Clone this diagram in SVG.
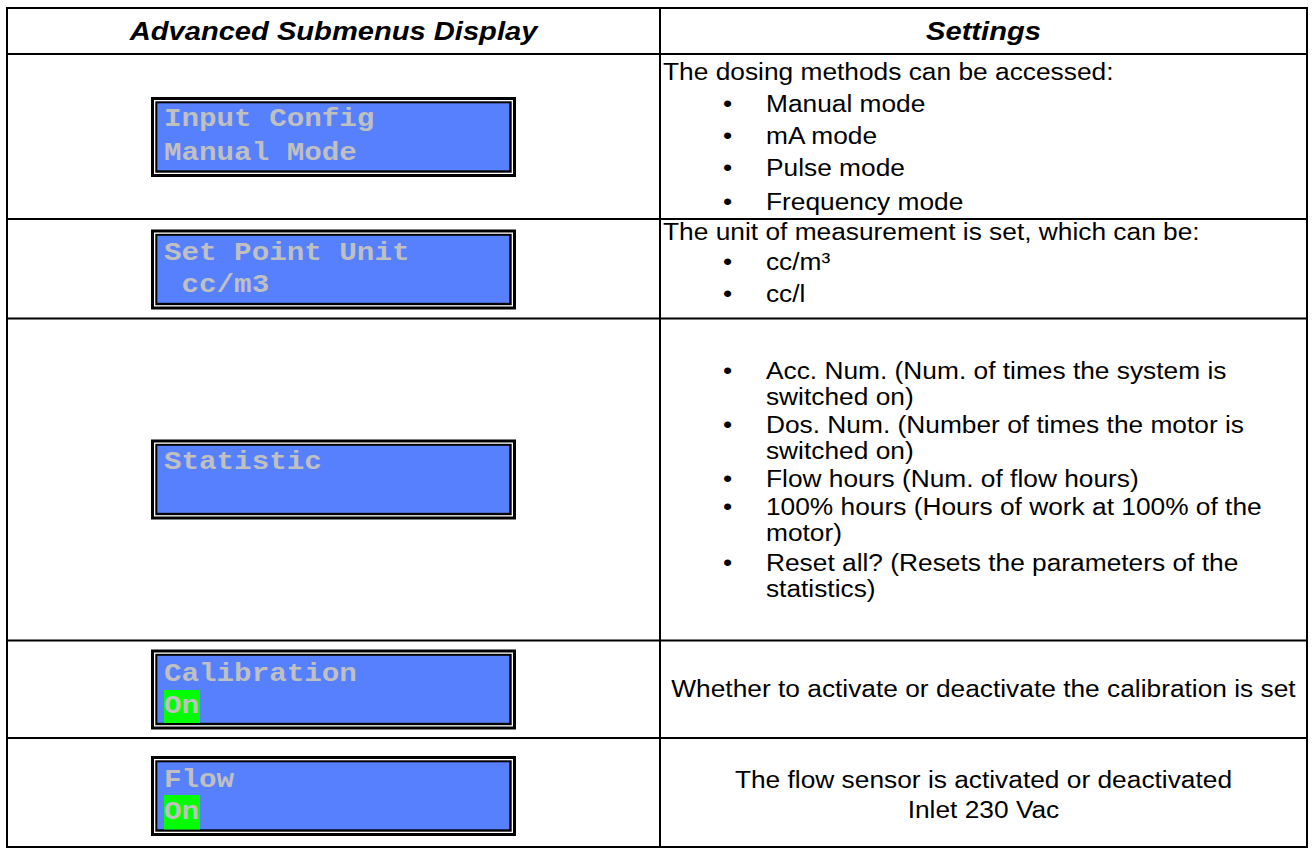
<svg xmlns="http://www.w3.org/2000/svg" width="1313" height="850" viewBox="0 0 1313 850">
  <style>
    .grid { stroke: #000; stroke-width: 2; fill: none; }
    .head { font-family: "Liberation Sans", Arial, sans-serif; font-size: 26px; font-weight: bold; font-style: italic; fill: #000; text-anchor: middle; }
    .body { font-family: "Liberation Sans", Arial, sans-serif; font-size: 23.5px; fill: #000; }
    .mid { text-anchor: middle; }
    .lcd { font-family: "Liberation Mono", "Courier New", monospace; font-size: 26.1px; font-weight: bold; fill: #c0c0c0; white-space: pre; }
    .frame-o { fill: #000; }
    .frame-w { fill: #fff; }
    .screen { fill: #5780ff; }
    .on { fill: #00ff00; }
  </style>
  <defs>
    <!-- LCD panel: heavy black bezel, thin white inset line, thin black line, blue screen -->
    <g id="panel">
      <rect class="frame-o" x="0" y="0" width="365" height="80"/>
      <rect class="frame-w" x="3" y="3" width="359" height="74"/>
      <rect class="frame-o" x="4.3" y="4.3" width="356.4" height="71.4"/>
      <rect class="screen" x="6.3" y="6.3" width="352" height="67"/>
    </g>
  </defs>

  <rect width="1313" height="850" fill="#fff"/>

  <!-- table grid -->
  <g id="table-grid">
    <rect class="grid" x="7" y="8" width="1300" height="839"/>
    <line class="grid" x1="660" y1="8" x2="660" y2="847"/>
    <line class="grid" x1="7" y1="54" x2="1307" y2="54"/>
    <line class="grid" x1="7" y1="219" x2="1307" y2="219"/>
    <line class="grid" x1="7" y1="318.5" x2="1307" y2="318.5"/>
    <line class="grid" x1="7" y1="640.5" x2="1307" y2="640.5"/>
    <line class="grid" x1="7" y1="738" x2="1307" y2="738"/>
  </g>

  <!-- text is set slightly wide: every text group uses scale(1.12 1), x values are divided by 1.12 -->

  <!-- column headers -->
  <g id="header" transform="scale(1.12 1)">
    <text class="head" x="297.8" y="40">Advanced Submenus Display</text>
    <text class="head" x="878.1" y="40">Settings</text>
  </g>

  <!-- row 1: input configuration -->
  <g id="row-input-config">
    <use href="#panel" x="151" y="97"/>
    <g transform="scale(1.12 1)">
      <text class="lcd" x="146.4" y="126">Input Config</text>
      <text class="lcd" x="146.4" y="160.5">Manual Mode</text>
      <text class="body" x="592" y="80">The dosing methods can be accessed:</text>
      <text class="body" x="645.5" y="112">•</text><text class="body" x="683.9" y="112">Manual mode</text>
      <text class="body" x="645.5" y="144">•</text><text class="body" x="683.9" y="144">mA mode</text>
      <text class="body" x="645.5" y="176">•</text><text class="body" x="683.9" y="176">Pulse mode</text>
      <text class="body" x="645.5" y="210">•</text><text class="body" x="683.9" y="210">Frequency mode</text>
    </g>
  </g>

  <!-- row 2: set point unit -->
  <g id="row-set-point-unit">
    <use href="#panel" x="151" y="229.5"/>
    <g transform="scale(1.12 1)">
      <text class="lcd" x="146.4" y="260.5">Set Point Unit</text>
      <text class="lcd" x="146.4" y="292.5"> cc/m3</text>
      <text class="body" x="592" y="240">The unit of measurement is set, which can be:</text>
      <text class="body" x="645.5" y="270">•</text><text class="body" x="683.9" y="270">cc/m³</text>
      <text class="body" x="645.5" y="302">•</text><text class="body" x="683.9" y="302">cc/l</text>
    </g>
  </g>

  <!-- row 3: statistics -->
  <g id="row-statistic">
    <use href="#panel" x="151" y="439.5"/>
    <g transform="scale(1.12 1)">
      <text class="lcd" x="146.4" y="469.5">Statistic</text>
      <text class="body" x="645.5" y="379">•</text><text class="body" x="683.9" y="379">Acc. Num. (Num. of times the system is</text>
      <text class="body" x="683.9" y="405">switched on)</text>
      <text class="body" x="645.5" y="433">•</text><text class="body" x="683.9" y="433">Dos. Num. (Number of times the motor is</text>
      <text class="body" x="683.9" y="459">switched on)</text>
      <text class="body" x="645.5" y="487">•</text><text class="body" x="683.9" y="487">Flow hours (Num. of flow hours)</text>
      <text class="body" x="645.5" y="515">•</text><text class="body" x="683.9" y="515">100% hours (Hours of work at 100% of the</text>
      <text class="body" x="683.9" y="541">motor)</text>
      <text class="body" x="645.5" y="571">•</text><text class="body" x="683.9" y="571">Reset all? (Resets the parameters of the</text>
      <text class="body" x="683.9" y="597">statistics)</text>
    </g>
  </g>

  <!-- row 4: calibration -->
  <g id="row-calibration">
    <use href="#panel" x="151" y="649.5"/>
    <rect class="on" x="164" y="690" width="36" height="33"/>
    <g transform="scale(1.12 1)">
      <text class="lcd" x="146.4" y="681">Calibration</text>
      <text class="lcd" x="146.4" y="713.5">On</text>
      <text class="body mid" x="878.1" y="697">Whether to activate or deactivate the calibration is set</text>
    </g>
  </g>

  <!-- row 5: flow sensor -->
  <g id="row-flow">
    <use href="#panel" x="151" y="756"/>
    <rect class="on" x="164" y="795" width="36" height="34.5"/>
    <g transform="scale(1.12 1)">
      <text class="lcd" x="146.4" y="787">Flow</text>
      <text class="lcd" x="146.4" y="819.5">On</text>
      <text class="body mid" x="878.1" y="788">The flow sensor is activated or deactivated</text>
      <text class="body mid" x="878.1" y="818">Inlet 230 Vac</text>
    </g>
  </g>
</svg>
